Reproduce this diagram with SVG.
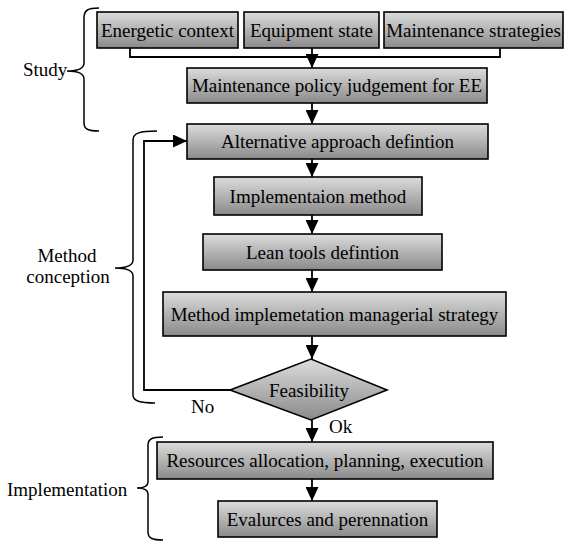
<svg xmlns="http://www.w3.org/2000/svg" width="566" height="541" viewBox="0 0 566 541">
<defs>
<linearGradient id="g" x1="0" y1="0" x2="0" y2="1">
<stop offset="0" stop-color="#dcdcdc"/>
<stop offset="1" stop-color="#8a8a8a"/>
</linearGradient>
<marker id="ah" markerUnits="userSpaceOnUse" viewBox="0 0 14 13" markerWidth="14" markerHeight="13" refX="14" refY="6.5" orient="auto">
<path d="M0,0 L14,6.5 L0,13 z" fill="#000"/>
</marker>
</defs>
<style>
.box{fill:url(#g);stroke:#000;stroke-width:1.6}
.t{font-family:'Liberation Serif','Times New Roman',serif;font-size:19px;fill:#000}
.c{text-anchor:middle}
.ln{fill:none;stroke:#000;stroke-width:1.8}
.br{fill:none;stroke:#000;stroke-width:1.5}
</style>
<rect width="566" height="541" fill="#fff"/>
<g id="connectors">
<path class="ln" d="M130,48 V57 H500 V48"/>
<path class="ln" d="M312,48 V68" marker-end="url(#ah)"/>
<path class="ln" d="M312,103 V124" marker-end="url(#ah)"/>
<path class="ln" d="M312,159 V177" marker-end="url(#ah)"/>
<path class="ln" d="M312,215 V234" marker-end="url(#ah)"/>
<path class="ln" d="M312,270 V292" marker-end="url(#ah)"/>
<path class="ln" d="M312,336 V359" marker-end="url(#ah)"/>
<path class="ln" d="M312,420 V442" marker-end="url(#ah)"/>
<path class="ln" d="M312,479 V501" marker-end="url(#ah)"/>
<path class="ln" d="M230,390 H144 V141 H187" marker-end="url(#ah)"/>
<text class="t" x="191" y="413">No</text>
<text class="t" x="329" y="433">Ok</text>
</g>
<g id="study">
<path class="br" d="M99,8 C88,8 84,10 84,18 L84,63 C84,68 80,71 67,71 C80,71 84,74 84,79 L84,123 C84,129 88,131 99,131"/>
<text class="t" x="23" y="76">Study</text>
</g>
<g id="method-conception">
<path class="br" d="M157,131 C140,131 133,133 133,140 L133,260 C133,265 128,268 115,268 C128,268 133,271 133,276 L133,395 C133,401 140,403 155,403"/>
<text class="t c" x="67" y="262">Method</text>
<text class="t c" x="68" y="283">conception</text>
</g>
<g id="implementation">
<path class="br" d="M163,437 C152,437 148,439 148,445 L148,482 C148,486 145,488 137,488 C145,488 148,490 148,494 L148,532 C148,538 152,540 163,540"/>
<text class="t" x="7" y="496">Implementation</text>
</g>
<g id="energetic">
<rect class="box" x="97" y="12" width="141" height="36"/>
<text class="t c" x="167.5" y="36.5">Energetic context</text>
</g>
<g id="equipment">
<rect class="box" x="244" y="12" width="135" height="36"/>
<text class="t c" x="311.5" y="36.5">Equipment state</text>
</g>
<g id="strategies">
<rect class="box" x="384" y="12" width="179" height="36"/>
<text class="t c" x="473.5" y="36.5">Maintenance strategies</text>
</g>
<g id="policy">
<rect class="box" x="187" y="68" width="300" height="35"/>
<text class="t c" x="337" y="92">Maintenance policy judgement for EE</text>
</g>
<g id="alternative">
<rect class="box" x="187" y="124" width="301" height="35"/>
<text class="t c" x="337.5" y="148">Alternative approach defintion</text>
</g>
<g id="impl-method">
<rect class="box" x="214" y="177" width="208" height="38"/>
<text class="t c" x="318" y="202.5">Implementaion method</text>
</g>
<g id="lean">
<rect class="box" x="203" y="234" width="239" height="36"/>
<text class="t c" x="322.5" y="258.5">Lean tools defintion</text>
</g>
<g id="managerial">
<rect class="box" x="163" y="292" width="343" height="44"/>
<text class="t c" x="334.5" y="320.5">Method implemetation managerial strategy</text>
</g>
<g id="feasibility">
<polygon class="box" points="230,390 311,359 387,390 311,420"/>
<text class="t c" x="309" y="397">Feasibility</text>
</g>
<g id="resources">
<rect class="box" x="157" y="442" width="336" height="37"/>
<text class="t c" x="325" y="467">Resources allocation, planning, execution</text>
</g>
<g id="evaluation">
<rect class="box" x="218" y="501" width="219" height="36"/>
<text class="t c" x="327.5" y="525.5">Evalurces and perennation</text>
</g>
</svg>
